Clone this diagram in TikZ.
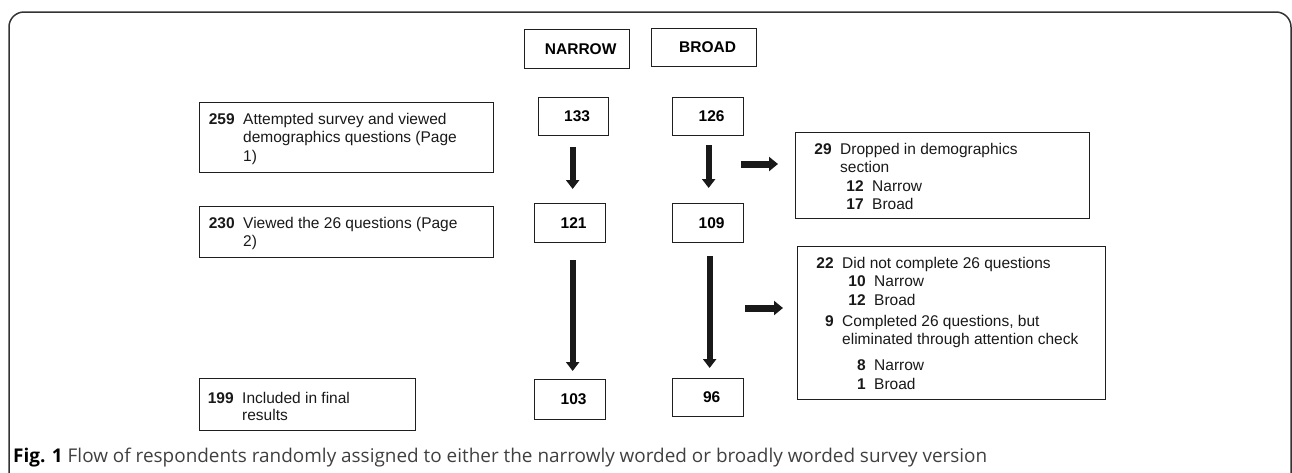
\documentclass[tikz,border=0pt]{standalone}
\usepackage{fontspec}
\setmainfont{Liberation Sans}
\newfontfamily\capfont{Open Sans}
\usetikzlibrary{arrows.meta,calc}
\newcommand\mrow[2]{\makebox[30pt][r]{\textbf{#1}}\hspace{8.5pt}#2}
\newcommand\crow[1]{\hspace*{38.5pt}#1}
\newcommand\srow[2]{\hspace*{38.5pt}\makebox[23.5pt][r]{\textbf{#1}}\hspace{8.5pt}#2}
\begin{document}
\begin{tikzpicture}[x=1pt,y=-1pt,
  box/.style={draw=black!88, line width=1.3pt, rectangle, inner sep=0pt, anchor=north west},
  numbox/.style={box, font=\fontsize{15.5}{18.6}\selectfont\bfseries, execute at begin node=\hspace*{7pt}},
  txt/.style={inner sep=0pt, anchor=base west, font=\fontsize{15.5}{18.6}\selectfont, text=black!90},
  bigv/.style={draw=black!90, line width=6pt, -{Triangle[length=9pt,width=13pt]}},
  bigh/.style={draw=black!90, line width=7pt, -{Triangle[length=9pt,width=14pt]}}
]
\useasboundingbox (0,0) rectangle (1292,472);
% frame
\draw[black!80, line width=1.5pt, rounded corners=15pt] (9,475) -- (9,12) -- (1291,12) -- (1291,475);

% column headers
\node[numbox, minimum width=105pt, minimum height=39pt] (hn) at (524,29) {NARROW};
\node[numbox, minimum width=105pt, minimum height=38pt] (hb) at (651,28) {BROAD};

% left boxes
\node[box, minimum width=294pt, minimum height=70pt] (B259) at (199,102) {};
\node[txt] (T259) at (204.5,124) {\begin{tabular}[t]{@{}l@{}}\mrow{259}{Attempted survey and viewed}\\ \crow{demographics questions (Page}\\ \crow{1)}\end{tabular}};
\node[box, minimum width=294pt, minimum height=51pt] (B230) at (199,206) {};
\node[txt] (T230) at (204.5,228) {\begin{tabular}[t]{@{}l@{}}\mrow{230}{Viewed the 26 questions (Page}\\ \crow{2)}\end{tabular}};
\node[box, minimum width=216pt, minimum height=52pt] (B199) at (199,378) {};
\node[txt] (T199) at (203.5,403) {\begin{tabular}[t]{@{}l@{}}\mrow{199}{Included in final}\\[-1.5pt] \crow{results}\end{tabular}};

% count boxes
\node[numbox, minimum width=70pt, minimum height=38pt] (n133) at (538,97) {133};
\node[numbox, minimum width=71pt, minimum height=38pt] (b126) at (672,97) {126};
\node[numbox, minimum width=71pt, minimum height=39pt] (n121) at (534,203) {121};
\node[numbox, minimum width=71pt, minimum height=39pt] (b109) at (672,203) {109};
\node[numbox, minimum width=71pt, minimum height=40pt] (n103) at (534,379) {103};
\node[numbox, minimum width=71pt, minimum height=38pt] (b96) at (672,378) {96};

% right boxes
\node[box, minimum width=294pt, minimum height=86pt] (D29) at (795,132) {};
\node[txt] (T29) at (801.5,154) {\begin{tabular}[t]{@{}l@{}}\mrow{29}{Dropped in demographics}\\ \crow{section}\\ \srow{12}{Narrow}\\ \srow{17}{Broad}\end{tabular}};
\node[box, minimum width=308pt, minimum height=153pt] (D22) at (797,246) {};
\node[txt] (T22) at (803.5,268) {\begin{tabular}[t]{@{}l@{}}\mrow{22}{Did not complete 26 questions}\\ \srow{10}{Narrow}\\ \srow{12}{Broad}\\[2.5pt] \mrow{9}{Completed 26 questions, but}\\ \crow{eliminated through attention check}\\[7pt] \srow{8}{Narrow}\\ \srow{1}{Broad}\end{tabular}};

% vertical arrows
\draw[bigv, shorten <=11pt, shorten >=14pt] ([xshift=-1pt]n133.south) -- ([xshift=-1pt]n133.south |- n121.north);
\draw[bigv, shorten <=9pt, shorten >=15pt] ([xshift=0.5pt]b126.south) -- ([xshift=0.5pt]b126.south |- b109.north);
\draw[bigv, shorten <=17pt, shorten >=8pt] ([xshift=2.5pt]n121.south) -- ([xshift=2.5pt]n103.north);
\draw[bigv, shorten <=13pt, shorten >=10pt] ([xshift=1.5pt]b109.south) -- ([xshift=1.5pt]b96.north);

% horizontal arrows
\coordinate (h1) at (741,164);
\coordinate (h2) at (745,308);
\draw[bigh, shorten >=17pt] (h1) -- (h1 -| D29.west);
\draw[bigh, shorten >=14pt] (h2) -- (h2 -| D22.west);

% caption
\node[inner sep=0pt, anchor=base west, font=\capfont\fontsize{18}{21}\selectfont] (cap) at (13,462) {\resizebox{974pt}{!}{\textbf{Fig. 1} \textcolor{black!75}{Flow of respondents randomly assigned to either the narrowly worded or broadly worded survey version}}};
\end{tikzpicture}
\end{document}
